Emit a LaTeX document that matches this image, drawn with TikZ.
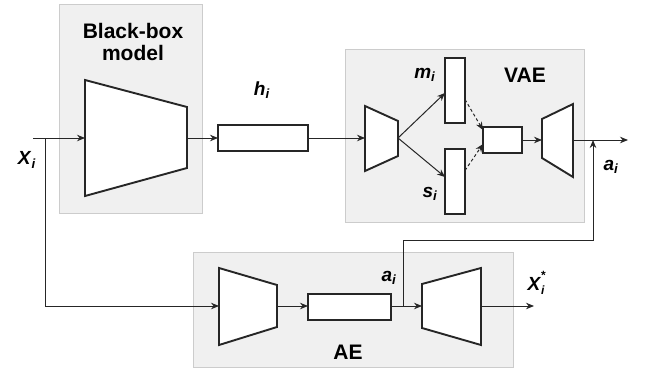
\documentclass[tikz,border=0pt]{standalone}
\usepackage{fontspec}
\setmainfont{Liberation Sans}
\usetikzlibrary{arrows.meta,calc}
\newcommand\vlab[2]{\textbf{\textit{#1}}\textsubscript{\textbf{\textit{#2}}}}
\begin{document}
\begin{tikzpicture}[x=1pt,y=-1pt,
  panel/.style={draw=black!20,fill=black!6,line width=0.8pt,inner sep=0pt,outer sep=0pt},
  blk/.style={draw=black!85,line width=1.9pt,fill=white,line join=miter},
  bar/.style={blk,rectangle,inner sep=0pt,outer sep=0pt},
  conn/.style={draw=black!85,line width=1pt},
  arr/.style={conn,-{Stealth[length=8pt,width=6.5pt]}},
  darr/.style={arr,dashed,dash pattern=on 3pt off 2.5pt},
  lbl/.style={font=\fontsize{19}{21}\selectfont,inner sep=0pt},
  ttl/.style={font=\fontsize{21}{24}\selectfont\bfseries,inner sep=0pt,align=center}]
\useasboundingbox (0,0) rectangle (647,369);
% panels
\node[panel,minimum width=143pt,minimum height=209pt] (bbpanel) at (130.5,108.5) {};
\node[panel,minimum width=239pt,minimum height=173pt] (vaepanel) at (464.5,135.5) {};
\node[panel,minimum width=320pt,minimum height=115pt] (aepanel) at (353,309.5) {};
% titles
\node[ttl] (bbt) at (133,42) {Black-box\\[-2pt]model};
\node[ttl] (vaet) at (525,75) {VAE};
\node[ttl] (aet) at (348,352) {AE};
% black-box trapezoid
\draw[blk] (85,80) -- (187,107) -- (187,168) -- (85,196) -- cycle;
\coordinate (bbL) at (85,138);
\coordinate (bbR) at (187,138);
% h box
\node[bar,minimum width=90pt,minimum height=26pt] (h) at (263,138) {};
% VAE encoder
\draw[blk] (365,106) -- (398,121) -- (398,156) -- (365,171) -- cycle;
\coordinate (vencL) at (365,138);
\coordinate (vencR) at (398,138);
% m and s
\node[bar,minimum width=20pt,minimum height=65pt] (m) at (455,90.5) {};
\node[bar,minimum width=20pt,minimum height=65pt] (s) at (455,181.5) {};
% z box
\node[bar,minimum width=39pt,minimum height=26pt] (z) at (502.5,140) {};
% VAE decoder
\draw[blk] (542,119) -- (573,104) -- (573,177) -- (542,158) -- cycle;
\coordinate (vdecL) at (542,140);
\coordinate (vdecR) at (573,140);
\coordinate (vout) at (628,140);
\coordinate (vj) at (593,140);
% AE encoder
\draw[blk] (219,268) -- (277,285) -- (277,327) -- (219,345) -- cycle;
\coordinate (aencL) at (219,306);
\coordinate (aencR) at (277,306);
% AE latent
\node[bar,minimum width=83pt,minimum height=26pt] (alat) at (349.5,307) {};
% AE decoder
\draw[blk] (422,284) -- (481,268) -- (481,345) -- (422,328) -- cycle;
\coordinate (adecL) at (422,306);
\coordinate (adecR) at (481,306);
\coordinate (aout) at (534,306);
\coordinate (aj) at (403,306);
% input
\coordinate (xin) at (33,138);
\coordinate (xj) at (45,138);
% connectors
\draw[arr] (xin) -- (bbL);
\draw[arr] (xj) |- (aencL);
\draw[arr] (bbR) -- (h.west);
\draw[arr] (h.east) -- (vencL);
\draw[arr] (vencR) -- ([yshift=-2.5pt]m.west);
\draw[arr] (vencR) -- ([yshift=4.5pt]s.west);
\draw[darr] ([yshift=-9pt]m.east) -- ([yshift=10pt]z.west);
\draw[darr] ([yshift=11pt]s.east) -- ([yshift=-4pt]z.west);
\draw[arr] (z.east) -- (vdecL);
\draw[arr] (vdecR) -- (vout);
\draw[arr] (aencR) -- (alat.west |- aencR);
\draw[arr] (alat.east |- adecL) -- (adecL);
\draw[arr] (adecR) -- (aout);
\draw[arr] (aj) -- (403,240) -| (vj);
% labels
\node[lbl] (lx) at (27,160) {\vlab{X}{i}};
\node[lbl] (lh) at (262,90) {\vlab{h}{i}};
\node[lbl] (lm) at (425,75) {\vlab{m}{i}};
\node[lbl] (ls) at (430,194) {\vlab{s}{i}};
\node[lbl] (la1) at (611,167) {\vlab{a}{i}};
\node[lbl] (la2) at (389,278) {\vlab{a}{i}};
\node[lbl] (lxs) at (536,283) {\textbf{\textit{X}}\rlap{\raisebox{1.05ex}{\fontsize{12}{12}\selectfont\bfseries *}}\raisebox{-0.45ex}{\fontsize{12}{12}\selectfont\bfseries\itshape i}};
\end{tikzpicture}
\end{document}
